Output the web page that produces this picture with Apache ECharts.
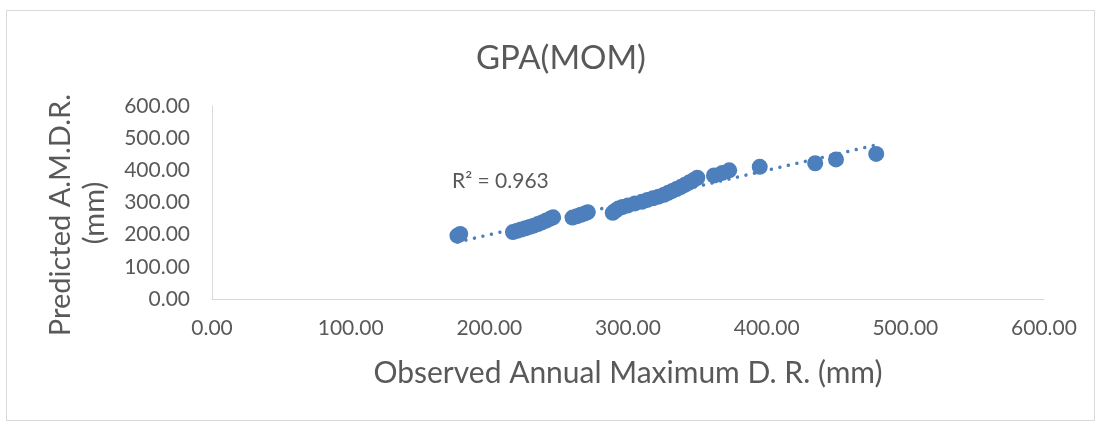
<!DOCTYPE html>
<html>
<head>
<meta charset="utf-8">
<script src="https://cdn.jsdelivr.net/npm/echarts@6/dist/echarts.min.js"></script>
<style>
html,body{margin:0;padding:0;background:#fff;}
#c{width:1097px;height:427px;}
</style>
</head>
<body>
<div id="c"></div>
<script>
// Observed annual maximum daily rainfall (mm)
var observed = [177, 179,
  217, 220, 223, 226, 229, 232, 235, 238, 241, 244, 246,
  260, 263, 266, 269, 271,
  289, 291, 293, 296, 300, 305, 310, 314, 318, 322, 326, 329, 332, 335, 338, 341, 344, 347, 350,
  362, 368, 373, 395, 435, 450, 479];
// Predicted A.M.D.R. (mm)
var predicted = [197, 202,
  208, 212, 216, 220, 224, 228, 233, 238, 244, 250, 254,
  253, 257, 262, 266, 270,
  268, 275, 281, 286, 291, 297, 302, 308, 313, 318, 324, 330, 336, 342, 348, 355, 362, 369, 377,
  384, 392, 400, 411, 422, 434, 451];
// Trendline end points
var trendX = [177, 480];
var trendY = [177, 480];
var axisTicks = [0, 100, 200, 300, 400, 500, 600];
var r2Text = 'R² = 0.963';
var yTitle = ['Predicted A.M.D.R.', '(mm)'];

var pts = observed.map(function (x, i) { return [x, predicted[i]]; });
var trend = trendX.map(function (x, i) { return [x, trendY[i]]; });

var FONT = 'Lato';
var chart = echarts.init(document.getElementById('c'), null, {renderer: 'canvas'});
chart.setOption({
  animation: false,
  backgroundColor: '#ffffff',
  title: {
    text: 'GPA(MOM)', left: 471, top: 37,
    textStyle: {fontFamily: FONT, fontSize: 33, fontWeight: 'normal', color: '#595959'}
  },
  grid: {left: 212, right: 53, top: 106, bottom: 128},
  xAxis: {
    type: 'value', min: axisTicks[0], max: axisTicks[axisTicks.length - 1], interval: 100,
    name: 'Observed Annual Maximum D. R. (mm)', nameLocation: 'middle', nameGap: 59,
    nameTextStyle: {fontFamily: FONT, fontSize: 30, color: '#595959'},
    axisLine: {show: true, lineStyle: {color: '#d9d9d9', width: 1}},
    axisTick: {show: false},
    splitLine: {show: false},
    axisLabel: {fontFamily: FONT, fontSize: 21, color: '#595959', margin: 19,
      formatter: function (v) { return v.toFixed(2); }}
  },
  yAxis: {
    type: 'value', min: axisTicks[0], max: axisTicks[axisTicks.length - 1], interval: 100,
    axisLine: {show: true, lineStyle: {color: '#d9d9d9', width: 1}},
    axisTick: {show: false},
    splitLine: {show: false},
    axisLabel: {fontFamily: FONT, fontSize: 21, color: '#595959', margin: 22,
      formatter: function (v) { return v.toFixed(2); }}
  },
  graphic: [
    {type: 'rect', left: 4, top: 8, shape: {width: 1088, height: 410},
      style: {fill: 'none', stroke: '#d9d9d9', lineWidth: 1}, silent: true},
    {type: 'text', left: 452, top: 171,
      style: {text: r2Text, fontFamily: FONT, fontSize: 21, fill: '#595959'}},
    {type: 'text', x: 61, y: 215, rotation: Math.PI / 2,
      style: {text: yTitle[0], fontFamily: FONT, fontSize: 29, fill: '#595959',
        align: 'center', verticalAlign: 'middle'}},
    {type: 'text', x: 95, y: 213, rotation: Math.PI / 2,
      style: {text: yTitle[1], fontFamily: FONT, fontSize: 29, fill: '#595959',
        align: 'center', verticalAlign: 'middle'}}
  ],
  series: [
    {
      type: 'line', data: trend, symbol: 'none', z: 1,
      lineStyle: {color: '#4e7fbd', width: 3.5, type: [0.01, 8.7], cap: 'round'}
    },
    {
      type: 'scatter', data: pts, symbol: 'circle', symbolSize: 16, z: 2,
      itemStyle: {color: '#4e7fbd', opacity: 1}
    }
  ]
});
</script>
</body>
</html>
